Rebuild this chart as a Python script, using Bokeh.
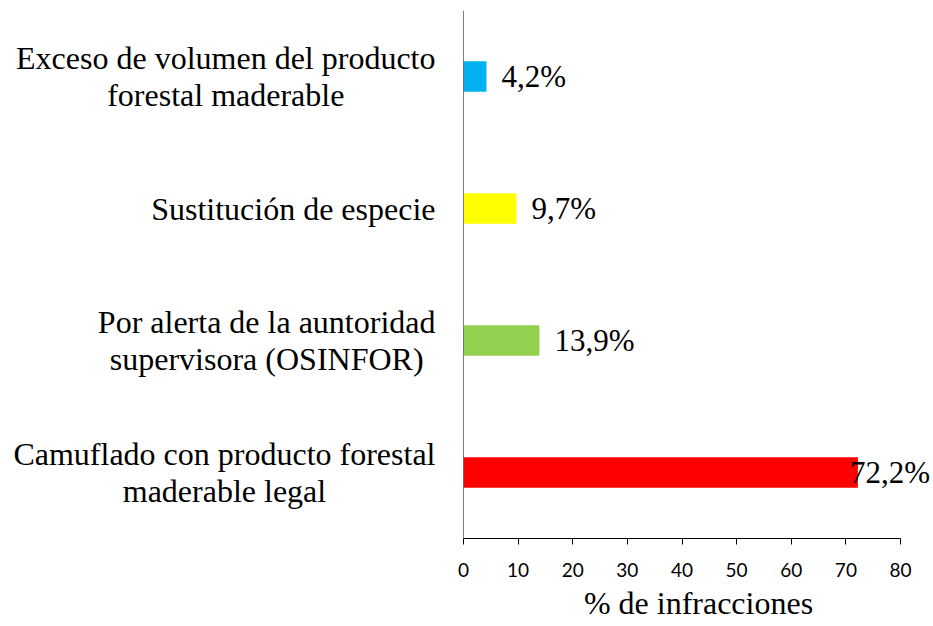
from bokeh.plotting import figure
from bokeh.layouts import row
from bokeh.models import ColumnDataSource, FactorRange, Range1d, FixedTicker, LabelSet, Span
from bokeh.core.properties import value
from bokeh.embed import file_html
from bokeh.resources import INLINE

categories = [
    "Camuflado con producto forestal\nmaderable legal",
    "Por alerta de la auntoridad\nsupervisora (OSINFOR)",
    "Sustitución de especie",
    "Exceso de volumen del producto\nforestal maderable",
]
values = [72.2, 13.9, 9.7, 4.2]
colors = ["#FF0000", "#92D050", "#FFFF00", "#00B0F0"]
x_ticks = [0, 10, 20, 30, 40, 50, 60, 70, 80]

labels = [f"{v:.1f}".replace(".", ",") + "%" for v in values]
offsets = [15 if v < 50 else -8 for v in values]

source = ColumnDataSource(dict(cat=categories, val=values, color=colors,
                               label=labels, off=offsets))

y_range = FactorRange(factors=categories, range_padding=0, factor_padding=0)

H = 626
TOP = 10
BOTTOM = 88

# left panel holding the category labels (lines centred, block right-aligned)
lp = figure(width=455, height=H, output_backend="svg", toolbar_location=None,
            y_range=y_range, x_range=Range1d(0, 1),
            x_axis_location=None, y_axis_location=None,
            min_border_left=0, min_border_right=0, min_border_top=TOP, min_border_bottom=BOTTOM)
lp.grid.visible = False
lp.outline_line_color = None
lp.text(x=1, y="cat", text="cat", source=source, x_offset=-20,
        anchor="center_right", text_align="center", text_baseline="middle",
        text_font=value("Liberation Serif"), text_font_size="32px", text_color="black",
        text_line_height=1.05)

# main bar panel
p = figure(width=478, height=H, output_backend="svg", toolbar_location=None,
           y_range=y_range, x_range=Range1d(0, 86.04),
           y_axis_location=None,
           min_border_left=8, min_border_right=0, min_border_top=TOP, min_border_bottom=BOTTOM)

p.hbar(y="cat", right="val", left=0, height=0.23, color="color", line_color=None, source=source)

p.add_layout(Span(location=0, dimension="height", line_color="black", line_width=1))

p.add_layout(LabelSet(x="val", y="cat", text="label", x_offset="off", source=source,
                      text_font=value("Liberation Serif"), text_font_size="31px",
                      text_baseline="middle", text_color="black"))

p.grid.visible = False
p.outline_line_color = None
p.background_fill_color = "white"

xa = p.xaxis[0]
xa.ticker = FixedTicker(ticks=x_ticks)
xa.bounds = (0, 80)
xa.minor_tick_line_color = None
xa.major_tick_in = 0
xa.major_tick_out = 6
xa.axis_line_color = "black"
xa.major_tick_line_color = "black"
xa.major_label_text_font = "Lato"
xa.major_label_text_font_size = "19px"
xa.major_label_text_color = "black"
xa.major_label_standoff = 18
xa.axis_label = "% de infracciones"
xa.axis_label_text_font = "Liberation Serif"
xa.axis_label_text_font_size = "32px"
xa.axis_label_text_font_style = "normal"
xa.axis_label_text_color = "black"
xa.axis_label_standoff = 5

layout = row(lp, p, spacing=0)

open("out.html", "w").write(file_html(layout, INLINE))
